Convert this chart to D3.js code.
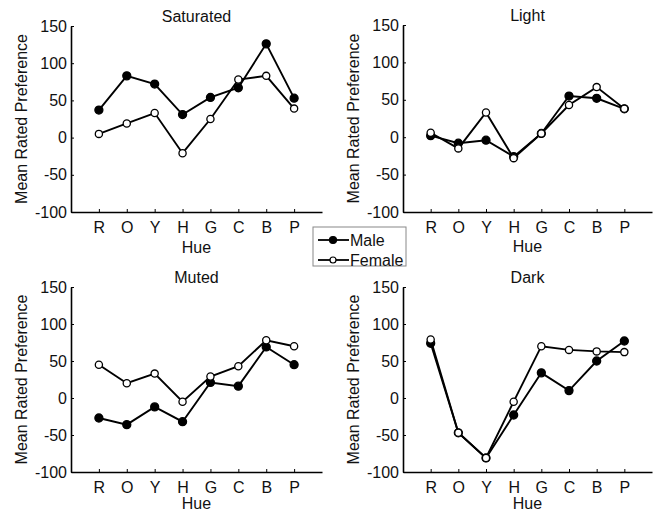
<!DOCTYPE html>
<html>
<head>
<meta charset="utf-8">
<script src="https://cdn.jsdelivr.net/npm/d3@7"></script>
<style>
  body { margin: 0; background: #fff; }
  text { font-family: "Liberation Sans", Arial, sans-serif; fill: #111; }
</style>
</head>
<body>
<div id="chart"></div>
<script>
// hue categories
var hues = ["R", "O", "Y", "H", "G", "C", "B", "P"];
var yTicks = [-100, -50, 0, 50, 100, 150];

var panelTitles = ["Saturated", "Light", "Muted", "Dark"];

var maleSaturated   = [37, 83, 72, 31, 54, 67, 126, 53];
var femaleSaturated = [5, 19, 33, -21, 25, 78, 83, 39];
var maleLight       = [2, -8, -4, -26, 5, 55, 52, 38];
var femaleLight     = [6, -15, 33, -28, 5, 43, 67, 38];
var maleMuted       = [-27, -36, -12, -32, 21, 16, 69, 45];
var femaleMuted     = [45, 20, 33, -5, 29, 43, 78, 70];
var maleDark        = [74, -47, -81, -23, 34, 10, 50, 77];
var femaleDark      = [79, -47, -81, -5, 70, 65, 63, 62];

var maleData = [maleSaturated, maleLight, maleMuted, maleDark];
var femaleData = [femaleSaturated, femaleLight, femaleMuted, femaleDark];

var width = 657, height = 515;
var fontSize = "16px";
var svg = d3.select("#chart").append("svg")
  .attr("width", width)
  .attr("height", height);

// panel positions (left of axis, top of y range), hue label offset
var panels = [
  {x: 71, y: 26, w: 251, h: 186, hue: 41},
  {x: 403, y: 25, w: 249, h: 187, hue: 40},
  {x: 71, y: 287, w: 251, h: 185, hue: 37},
  {x: 403, y: 287, w: 249, h: 185, hue: 37}
];

panels.forEach(function(p, i) {
  var g = svg.append("g")
    .attr("transform", "translate(" + p.x + "," + p.y + ")");

  var x = d3.scaleLinear().domain([0, hues.length + 1]).range([0, p.w]);
  var y = d3.scaleLinear().domain([-100, 150]).range([p.h, 0]);

  // x axis
  var xAxis = g.append("g")
    .attr("transform", "translate(0," + p.h + ")")
    .call(d3.axisBottom(x)
      .tickValues(d3.range(1, hues.length + 1))
      .tickFormat(function(d) { return hues[d - 1]; })
      .tickSizeInner(-3).tickSizeOuter(0).tickPadding(10));
  xAxis.select(".domain").attr("stroke", "#000").attr("stroke-width", 1.6);
  xAxis.selectAll("line").attr("stroke", "#000");
  xAxis.selectAll("text").style("font-size", fontSize).attr("fill", "#111")
    .style("font-family", "Liberation Sans, Arial, sans-serif");

  // y axis, plain hyphen for negatives
  var yAxis = g.append("g")
    .call(d3.axisLeft(y).tickValues(yTicks)
      .tickFormat(function(d) { return String(d); })
      .tickSizeInner(-3).tickSizeOuter(0).tickPadding(4));
  yAxis.select(".domain").attr("stroke", "#000").attr("stroke-width", 1.6);
  yAxis.selectAll("line").attr("stroke", "#000");
  yAxis.selectAll("text").style("font-size", fontSize).attr("fill", "#111")
    .style("font-family", "Liberation Sans, Arial, sans-serif");

  // titles
  g.append("text")
    .attr("x", p.w / 2).attr("y", -4)
    .attr("text-anchor", "middle")
    .style("font-size", fontSize)
    .text(panelTitles[i]);

  g.append("text")
    .attr("x", p.w / 2).attr("y", p.h + p.hue)
    .attr("text-anchor", "middle")
    .style("font-size", fontSize)
    .text("Hue");

  g.append("text")
    .attr("transform", "translate(-44," + (p.h / 2) + ")rotate(-90)")
    .attr("text-anchor", "middle")
    .style("font-size", fontSize)
    .text("Mean Rated Preference");

  var line = d3.line()
    .x(function(d, j) { return x(j + 1); })
    .y(function(d) { return y(d); });

  [[maleData[i], "#000"], [femaleData[i], "#fff"]].forEach(function(s) {
    g.append("path")
      .datum(s[0])
      .attr("d", line)
      .attr("fill", "none")
      .attr("stroke", "#000")
      .attr("stroke-width", 1.9);
    g.selectAll(null)
      .data(s[0])
      .enter()
      .append("circle")
      .attr("cx", function(d, j) { return x(j + 1); })
      .attr("cy", function(d) { return y(d); })
      .attr("r", s[1] == "#000" ? 4 : 3.6)
      .attr("fill", s[1])
      .attr("stroke", "#000")
      .attr("stroke-width", 1.3);
  });
});

// legend
var legend = svg.append("g").attr("transform", "translate(313,227)");
legend.append("rect")
  .attr("width", 93).attr("height", 39)
  .attr("fill", "#fff").attr("stroke", "#888").attr("stroke-width", 1);
var legendItems = [["Male", "#000"], ["Female", "#fff"]];
legendItems.forEach(function(d, i) {
  var yy = 13 + i * 20;
  legend.append("line")
    .attr("x1", 5).attr("x2", 36).attr("y1", yy).attr("y2", yy)
    .attr("stroke", "#000").attr("stroke-width", 1.8);
  legend.append("circle")
    .attr("cx", 20).attr("cy", yy).attr("r", d[1] == "#000" ? 3.5 : 3)
    .attr("fill", d[1]).attr("stroke", "#000").attr("stroke-width", 1.2);
  legend.append("text")
    .attr("x", 37).attr("y", yy + 6)
    .style("font-size", fontSize)
    .text(d[0]);
});
</script>
</body>
</html>
